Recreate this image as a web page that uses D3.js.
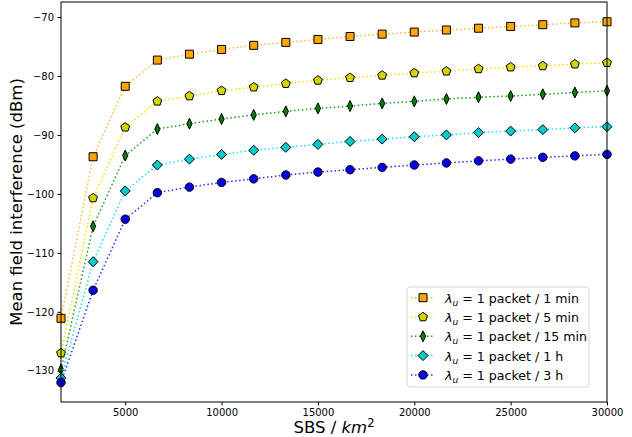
<!DOCTYPE html>
<meta charset="utf-8">
<style>
body { margin: 0; background: #fff; }
.tick text { font: 10px "DejaVu Sans", sans-serif; fill: #000; }
.tick line { stroke: #000; }
.domain { display: none; }
.frame { fill: none; stroke: #000; stroke-width: 1; }
.series path.link { fill: none; stroke-width: 1.5; stroke-dasharray: 1.5 2.5; }
.mark { stroke: #000; stroke-width: 1; }
.legend text { font: 12.6px "DejaVu Sans", sans-serif; fill: #000; }
</style>
<body>
<div id="chart"></div>
<script src="https://d3js.org/d3.v7.min.js"></script>
<script>

// data
var sbs = [1667, 3333, 5000, 6667, 8333, 10000, 11667, 13333, 15000, 16667,
           18333, 20000, 21667, 23333, 25000, 26667, 28333, 30000];

var min1  = [-121.1, -93.7, -81.75, -77.3, -76.3, -75.5, -74.8, -74.3, -73.8, -73.3,
             -72.9, -72.55, -72.2, -71.9, -71.6, -71.3, -71.0, -70.8];
var min5  = [-127.0, -100.7, -88.7, -84.3, -83.4, -82.5, -81.9, -81.3, -80.75, -80.3,
             -79.9, -79.5, -79.2, -78.8, -78.5, -78.3, -78.0, -77.75];
var min15 = [-129.8, -105.5, -93.5, -89.0, -88.1, -87.3, -86.6, -86.0, -85.5, -85.1,
             -84.65, -84.3, -83.9, -83.6, -83.4, -83.1, -82.8, -82.5];
var hour1 = [-131.25, -111.5, -99.5, -95.1, -94.1, -93.3, -92.6, -92.1, -91.6, -91.1,
             -90.7, -90.3, -90.0, -89.6, -89.35, -89.1, -88.8, -88.6];
var hour3 = [-132.0, -116.35, -104.3, -99.8, -98.85, -98.05, -97.45, -96.8, -96.3, -95.9,
             -95.5, -95.1, -94.75, -94.4, -94.1, -93.8, -93.55, -93.3];

var labels = ["1 min", "5 min", "15 min", "1 h", "3 h"];
var xTicks = [5000, 10000, 15000, 20000, 25000, 30000];
var yTicks = [-70, -80, -90, -100, -110, -120, -130];

var series = [
  {name: labels[0], values: min1,  face: "#ffa500", line: "#ffb733", shape: "square"},
  {name: labels[1], values: min5,  face: "#d4d400", line: "#e6e600", shape: "pentagon"},
  {name: labels[2], values: min15, face: "#008000", line: "#1aa31a", shape: "thin"},
  {name: labels[3], values: hour1, face: "#00cccc", line: "#1ae0e0", shape: "diamond"},
  {name: labels[4], values: hour3, face: "#0000e6", line: "#2b2bff", shape: "circle"}
];

var chartw = 632, charth = 437;
var margin = {top: 2, right: 25, bottom: 35, left: 61},
    width = chartw - margin.left - margin.right,
    height = charth - margin.top - margin.bottom;

var x = d3.scaleLinear().domain([1667, 30000]).range([0, width]);
var y = d3.scaleLinear().domain([-135.3, -67.45]).range([height, 0]);

var svg = d3.select("#chart").append("svg")
    .attr("width", chartw)
    .attr("height", charth)
  .append("g")
    .attr("transform", "translate(" + margin.left + "," + margin.top + ")");

// axes
svg.append("g")
    .attr("transform", "translate(0," + height + ")")
    .call(d3.axisBottom(x).tickValues(xTicks).tickFormat(d3.format("d"))
      .tickSizeOuter(0).tickSize(3.5).tickPadding(3.5));

svg.append("g")
    .call(d3.axisLeft(y).tickValues(yTicks).tickSizeOuter(0).tickSize(3.5).tickPadding(3.5)
      .tickFormat(function(d) { return "\u2212" + Math.abs(d); }));

// pentagon symbol
var pent = {
  draw: function(ctx, size) {
    var r = Math.sqrt(size / 2.378);
    for (var i = 0; i < 5; i++) {
      var a = -Math.PI / 2 + i * 2 * Math.PI / 5;
      if (i === 0) ctx.moveTo(r * Math.cos(a), r * Math.sin(a));
      else ctx.lineTo(r * Math.cos(a), r * Math.sin(a));
    }
    ctx.closePath();
  }
};

// marker path for each shape
function marker(shape) {
  if (shape === "square") return "M-4,-4H4V4H-4Z";
  if (shape === "pentagon") return d3.symbol().type(pent).size(52)();
  if (shape === "thin") return "M0,-5.5L2.6,0L0,5.5L-2.6,0Z";
  if (shape === "diamond") return "M0,-5L5,0L0,5L-5,0Z";
  return d3.symbol().type(d3.symbolCircle).size(56)();
}

var line = d3.line()
    .x(function(d, i) { return x(sbs[i]); })
    .y(function(d) { return y(d); });

var plot = svg.append("g");

var g = plot.selectAll(".series")
    .data(series)
    .enter().append("g")
    .attr("class", "series");

g.append("path")
    .attr("class", "link")
    .attr("d", function(d) { return line(d.values); })
    .style("stroke", function(d) { return d.line; });

g.each(function(s) {
  d3.select(this).selectAll(".mark")
      .data(s.values)
      .enter().append("path")
      .attr("class", "mark")
      .attr("d", marker(s.shape))
      .attr("transform", function(d, i) { return "translate(" + x(sbs[i]) + "," + y(d) + ")"; })
      .style("fill", s.face);
});

// frame
svg.append("rect")
    .attr("class", "frame")
    .attr("x", 0).attr("y", 0)
    .attr("width", width).attr("height", height);

// axis labels
svg.append("text")
    .attr("transform", "translate(" + (22 - margin.left) + "," + (height / 2) + ") rotate(-90)")
    .attr("text-anchor", "middle")
    .style("font", "16.5px 'DejaVu Sans', sans-serif")
    .text("Mean field interference (dBm)");

var xl = svg.append("text")
    .attr("x", width / 2)
    .attr("y", height + 31)
    .attr("text-anchor", "middle")
    .style("font", "16.5px 'DejaVu Sans', sans-serif");
xl.append("tspan").text("SBS / ");
xl.append("tspan").style("font-style", "italic").text("km");
xl.append("tspan").attr("dy", -6).style("font-size", "11.5px").text("2");

// legend
var lg = svg.append("g")
    .attr("class", "legend")
    .attr("transform", "translate(" + (407 - margin.left) + "," + (287 - margin.top) + ")");

lg.append("rect")
    .attr("width", 182).attr("height", 100)
    .attr("rx", 3)
    .style("fill", "#fff").style("fill-opacity", 0.8)
    .style("stroke", "#d6d6d6");

var item = lg.selectAll(".item")
    .data(series)
    .enter().append("g")
    .attr("transform", function(d, i) { return "translate(0," + (10.7 + i * 19.3) + ")"; });

item.append("line")
    .attr("x1", 4).attr("x2", 28)
    .style("stroke", function(d) { return d.line; })
    .style("stroke-width", 1.5)
    .style("stroke-dasharray", "1.5 2.5");

item.append("path")
    .attr("class", "mark")
    .attr("transform", "translate(16,0)")
    .attr("d", function(d) { return marker(d.shape); })
    .style("fill", function(d) { return d.face; });

var t = item.append("text")
    .attr("x", 38)
    .attr("y", 5);
t.append("tspan").style("font-style", "italic").text("\u03bb");
t.append("tspan").attr("dy", 3).style("font-size", "9px").style("font-style", "italic").text("u");
t.append("tspan").attr("dy", -3).text(function(d) { return " = 1 packet / " + d.name; });

</script>
</body>
